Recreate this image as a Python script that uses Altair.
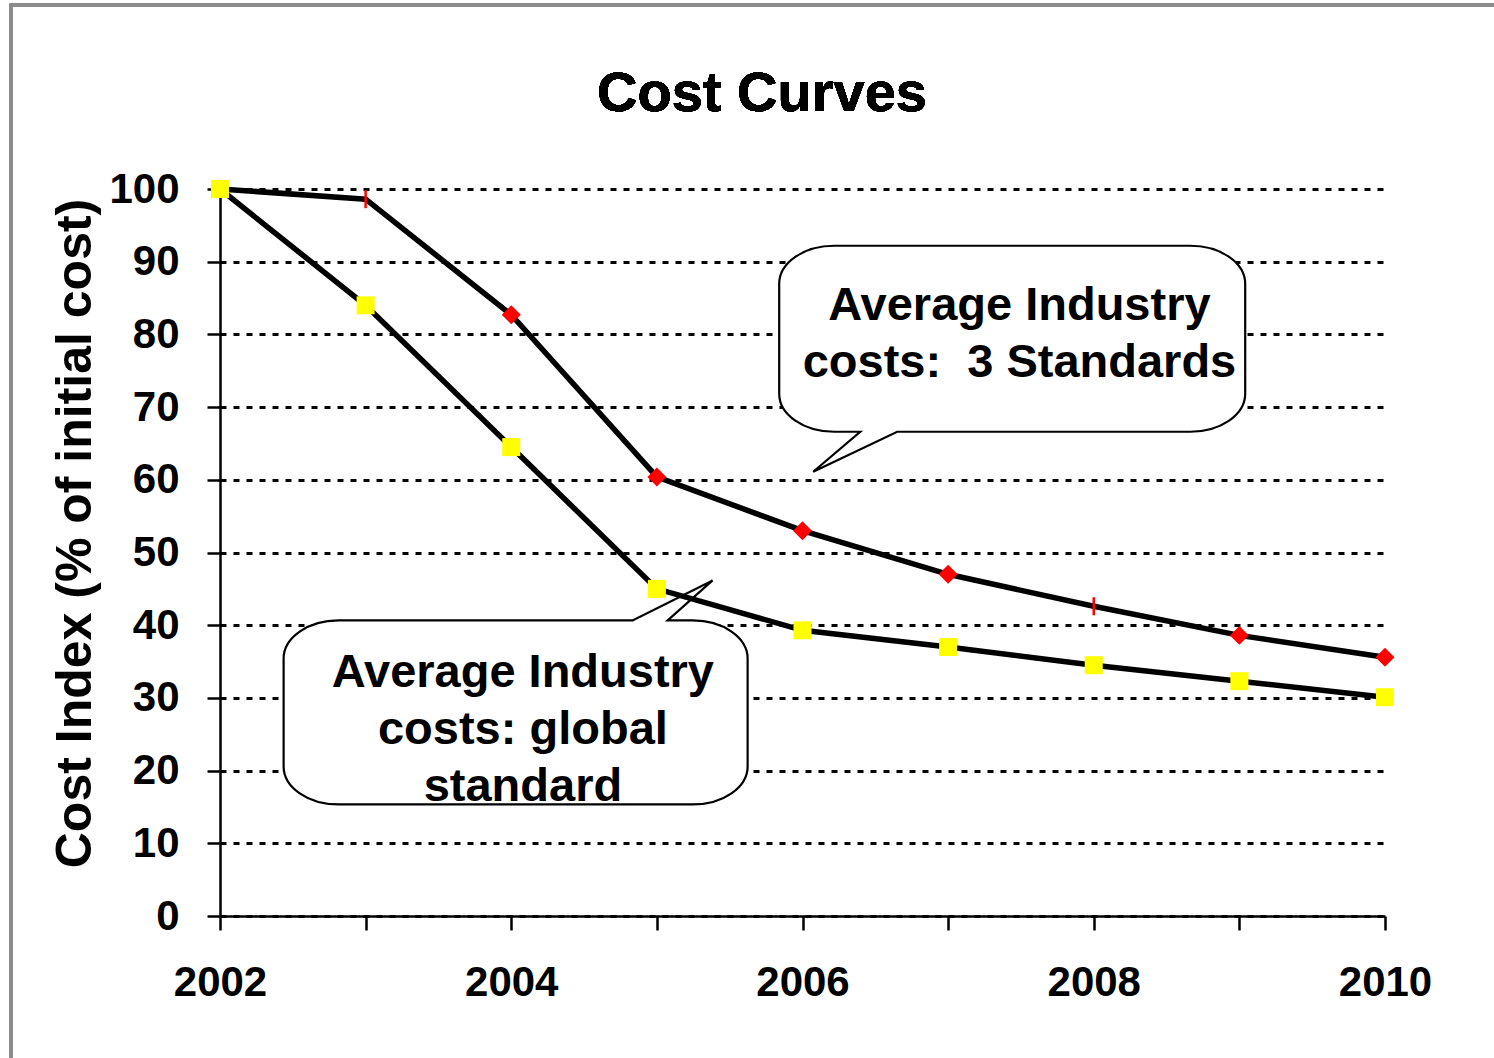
import altair as alt
import pandas as pd

# Cost index (% of initial cost) per year
years = [2002, 2003, 2004, 2005, 2006, 2007, 2008, 2009, 2010]
global_standard = [100, 84.0, 64.5, 45.0, 39.3, 37.0, 34.5, 32.3, 30.1]
three_standards = [100, 98.6, 82.7, 60.4, 53.0, 47.0, 42.6, 38.6, 35.6]

# years where the 3-standards marker is drawn as a thin stroke
stroke_marker_years = [2003, 2008]

# callout labels and anchor positions (data units)
label_3std = ["Average Industry", "costs:\u00a0 3 Standards"]
label_global = ["Average Industry", "costs: global", "standard"]
bubble_3std_pos = (2007.44, 79.4)
bubble_global_pos = (2004.03, 28.0)
text_3std_pos = (2007.49, 82.0)
text_global_pos = (2004.08, 31.5)

FONT = "Liberation Sans"
W, H = 1165, 727

df = pd.DataFrame(
    {
        "year": years * 2,
        "series": ["global"] * len(years) + ["three"] * len(years),
        "cost": global_standard + three_standards,
    }
)

x_enc = alt.X(
    "year:Q",
    scale=alt.Scale(domain=[2002, 2010], nice=False, zero=False),
    axis=alt.Axis(
        values=years,
        format="d",
        labelExpr="datum.value % 2 == 0 ? datum.label : ''",
        title=None,
        grid=False,
        labelFont=FONT,
        labelFontSize=42,
        labelFontWeight="bold",
        labelColor="black",
        labelPadding=32,
        labelOverlap=False,
        labelFlush=False,
        labelBound=False,
        tickSize=14,
        tickWidth=2.5,
        tickColor="black",
        domainColor="black",
        domainWidth=2.5,
    ),
)
y_enc = alt.Y(
    "cost:Q",
    scale=alt.Scale(domain=[0, 100], nice=False),
    axis=alt.Axis(
        values=list(range(0, 101, 10)),
        title="Cost Index (% of initial cost)",
        titleFont=FONT,
        titleFontSize=50,
        titleFontWeight="bold",
        titleColor="black",
        titleAngle=270,
        titleAlign="center",
        titleBaseline="alphabetic",
        titleX=-130,
        titleY=344,
        grid=True,
        gridColor="black",
        gridDash=[6, 7],
        gridWidth=3,
        labelFont=FONT,
        labelFontSize=42,
        labelFontWeight="bold",
        labelColor="black",
        labelPadding=28,
        labelOverlap=False,
        tickSize=13,
        tickWidth=2.5,
        tickColor="black",
        domainColor="black",
        domainWidth=2.5,
    ),
)

base = alt.Chart(df)

# outer frame of the figure
frame = base.mark_rect(fill=None, stroke="#8c8c8c", strokeWidth=2.5).encode(
    x=alt.value(-209), x2=alt.value(1400), y=alt.value(-184), y2=alt.value(1000)
)

title = base.mark_text(
    text="Cost Curves", font=FONT, fontSize=56, fontWeight="bold",
    align="center", baseline="alphabetic", color="black",
).encode(x=alt.value(542), y=alt.value(-78))

# speech-bubble outlines, path units are pixels (size=4 -> scale 1)
path_3std = (
    "M-178,-93 L178,-93 A55,38 0 0 1 233,-55 L233,55 A55,38 0 0 1 178,93 "
    "L-115,93 L-199,133 L-152,93 L-178,93 A55,38 0 0 1 -233,55 "
    "L-233,-55 A55,38 0 0 1 -178,-93 Z"
)
path_global = (
    "M-177,-92 L117,-92 L197,-132 L152,-92 L177,-92 A55,38 0 0 1 232,-54 "
    "L232,54 A55,38 0 0 1 177,92 L-177,92 A55,38 0 0 1 -232,54 "
    "L-232,-54 A55,38 0 0 1 -177,-92 Z"
)
DIAMOND = "M-1,0L0,-1L1,0L0,1Z"


def bubble(pos, path):
    d = pd.DataFrame({"year": [pos[0]], "cost": [pos[1]]})
    return alt.Chart(d).mark_point(
        shape=path, size=4, filled=True, fill="white", stroke="black",
        strokeWidth=2.2, opacity=1,
    ).encode(x="year:Q", y="cost:Q")


def bubble_text(pos, lines):
    d = pd.DataFrame({"year": [pos[0]], "cost": [pos[1]], "label": [lines]})
    return alt.Chart(d).mark_text(
        font=FONT, fontSize=47, fontWeight="bold", color="black",
        align="center", baseline="alphabetic", lineHeight=57,
    ).encode(x="year:Q", y="cost:Q", text="label")


lines = base.mark_line(color="black", strokeWidth=5.5).encode(
    x=x_enc, y=y_enc, detail="series:N"
)

stroke_list = "[" + ",".join(str(y) for y in stroke_marker_years) + "]"

red_diamonds = base.transform_filter(
    f"datum.series == 'three' && indexof({stroke_list}, datum.year) < 0"
).mark_point(shape=DIAMOND, size=360, filled=True, color="#ff0000", opacity=1).encode(
    x="year:Q", y="cost:Q"
)
red_strokes = base.transform_filter(
    f"datum.series == 'three' && indexof({stroke_list}, datum.year) >= 0"
).mark_point(shape="M0,-1L0,1", size=324, filled=False, stroke="#ff0000",
             strokeWidth=2.5, opacity=1).encode(x="year:Q", y="cost:Q")
yellow_squares = base.transform_filter("datum.series == 'global'").mark_point(
    shape="square", size=324, filled=True, color="#ffff00", opacity=1
).encode(x="year:Q", y="cost:Q")

chart = alt.layer(
    frame,
    bubble(bubble_3std_pos, path_3std),
    bubble(bubble_global_pos, path_global),
    lines,
    red_diamonds,
    red_strokes,
    yellow_squares,
    bubble_text(text_3std_pos, label_3std),
    bubble_text(text_global_pos, label_global),
    title,
).properties(
    width=W,
    height=H,
    autosize=alt.AutoSizeParams(type="none"),
    padding={"left": 220, "top": 189, "right": 1494 - 220 - W, "bottom": 1058 - 189 - H},
    background="white",
).configure_view(stroke=None)

chart.save("out.html", embed_options={"renderer": "svg", "actions": False})
